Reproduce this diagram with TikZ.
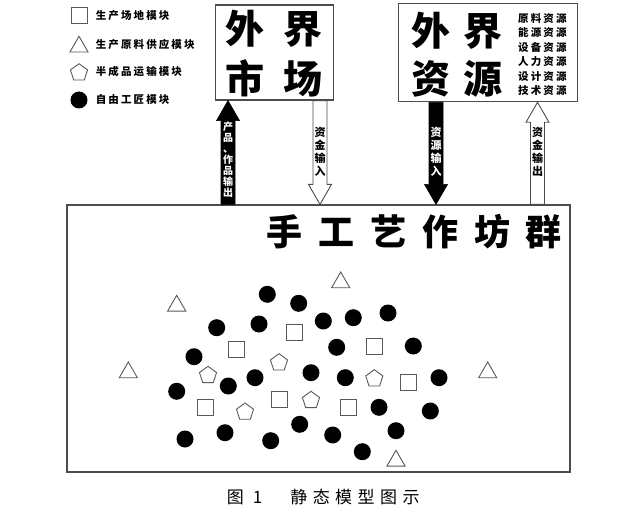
\documentclass[tikz,border=0pt]{standalone}
\usepackage{fontspec}
\setmainfont{Noto Sans CJK SC}
\usepackage{tikz}
\usetikzlibrary{calc,shapes.geometric}

\newcommand{\flowarrow}[3]{%
  \draw[#1] ($(#2)+(-7,0)$) -- ($(#3)!20pt!(#2)+(-7,0)$) -- ($(#3)!20pt!(#2)+(-11.5,0)$) -- (#3)
    -- ($(#3)!20pt!(#2)+(11.5,0)$) -- ($(#3)!20pt!(#2)+(7,0)$) -- ($(#2)+(7,0)$) -- cycle;}

\begin{document}
\begin{tikzpicture}[x=1pt,y=-1pt,
	panel/.style = {draw=black!70, line width=1.2pt, inner sep=0},
	crafter/.style = {circle, fill=black, minimum size=17pt, inner sep=0},
	site/.style = {draw=black!65, line width=0.9pt, minimum size=16pt, inner sep=0},
	supply/.style = {draw=black!65, line width=0.9pt, regular polygon, regular polygon sides=3, minimum size=21pt, inner sep=0},
	transit/.style = {draw=black!65, line width=0.9pt, regular polygon, regular polygon sides=5, minimum size=18pt, inner sep=0},
	keytext/.style = {anchor=west, inner sep=0, align=left, font=\bfseries\fontsize{10.5}{14.5}\selectfont\addfontfeature{LetterSpace=20}},
	flowtext/.style = {inner sep=0, align=center, font=\bfseries\fontsize{10}{11}\selectfont},
	solidflow/.style = {fill=black, draw=black, line width=0.6pt},
	hollowflow/.style = {fill=white, draw=black!70, line width=0.9pt}]
	\useasboundingbox (0,0) rectangle (644,513);

	% legend
	\node[site] (k1) at (79,15.7) {};
	\node[supply] (k2) at (79,46.8) {};
	\node[transit] (k3) at (79,72.7) {};
	\node[crafter] (k4) at (79,100) {};
	\node[keytext] (k1t) at (95.7,15.7) {生产场地模块};
	\node[keytext] (k2t) at (95.7,44.3) {生产原料供应模块};
	\node[keytext] (k3t) at (95.7,71.7) {半成品运输模块};
	\node[keytext] (k4t) at (95.7,100) {自由工匠模块};

	% outside boxes
	\node[panel, minimum width=117.6pt, minimum height=95pt] (market) at (274.5,52.5) {};
	\node[panel, minimum width=179.4pt, minimum height=98.4pt] (source) at (488,52.5) {};
	\node[anchor=west, inner sep=0, align=left, font=\bfseries\fontsize{39}{50}\selectfont\addfontfeature{LetterSpace=50}] (markettext) at (225,53.5) {外界\\市场};
	\node[anchor=west, inner sep=0, align=left, font=\bfseries\fontsize{39}{48.5}\selectfont\addfontfeature{LetterSpace=32}] (sourcetext) at (411.5,54.5) {外界\\资源};
	\node[keytext] (sourcelist) at (518,54.5) {原料资源\\能源资源\\设备资源\\人力资源\\设计资源\\技术资源};

	% workshop box
	\node[panel, minimum width=503pt, minimum height=267pt] (shop) at (318.5,338.5) {};
	\node[anchor=west, inner sep=0, font=\bfseries\fontsize{36}{36}\selectfont\addfontfeature{LetterSpace=44}] (shoptext) at (266.5,232) {手工艺作坊群};

	% flows
	\coordinate (c1) at (228,0);
	\coordinate (c2) at (320,0);
	\coordinate (c3) at (436,0);
	\coordinate (c4) at (537.5,0);
	\coordinate (f1tail) at (c1 |- shop.north);
	\coordinate (f1tip) at (c1 |- market.south);
	\coordinate (f2tail) at (c2 |- market.south);
	\coordinate (f2tip) at (c2 |- shop.north);
	\coordinate (f3tail) at (c3 |- source.south);
	\coordinate (f3tip) at (c3 |- shop.north);
	\coordinate (f4tail) at (c4 |- shop.north);
	\coordinate (f4tip) at (c4 |- source.south);
	\flowarrow{solidflow}{f1tail}{f1tip}
	\flowarrow{hollowflow}{f2tail}{f2tip}
	\flowarrow{solidflow}{f3tail}{f3tip}
	\flowarrow{hollowflow}{f4tail}{f4tip}
	\node[flowtext, text=white] (f1text) at (228,159.5) {产\\品\\、\\作\\品\\输\\出};
	\node[flowtext, font=\bfseries\fontsize{11}{13}\selectfont] (f2text) at (320,151.4) {资\\金\\输\\入};
	\node[flowtext, text=white, font=\bfseries\fontsize{11}{13}\selectfont] (f3text) at (436,151.4) {资\\源\\输\\入};
	\node[flowtext, font=\bfseries\fontsize{11}{13}\selectfont] (f4text) at (537.5,151.7) {资\\金\\输\\出};

	% supply modules
	\node[supply] (s1) at (340.7,282.5) {};
	\node[supply] (s2) at (176.7,305.8) {};
	\node[supply] (s3) at (128.3,372.5) {};
	\node[supply] (s4) at (487.7,372.5) {};
	\node[supply] (s5) at (396,460.8) {};

	% site modules
	\node[site] (p1) at (294.3,332.3) {};
	\node[site] (p2) at (236.7,349) {};
	\node[site] (p3) at (374.3,346) {};
	\node[site] (p4) at (408.3,382.3) {};
	\node[site] (p5) at (205,407.3) {};
	\node[site] (p6) at (279,399.3) {};
	\node[site] (p7) at (348.7,407.7) {};

	% transit modules
	\node[transit] (t1) at (279,362.7) {};
	\node[transit] (t2) at (208,375.3) {};
	\node[transit] (t3) at (374.3,378.7) {};
	\node[transit] (t4) at (311,400.3) {};
	\node[transit] (t5) at (245,412) {};

	% crafters
	\node[crafter] (m1) at (267.3,294.3) {};
	\node[crafter] (m2) at (298.7,303.3) {};
	\node[crafter] (m3) at (216.7,327.7) {};
	\node[crafter] (m4) at (259,324) {};
	\node[crafter] (m5) at (323.3,321) {};
	\node[crafter] (m6) at (353.3,317.7) {};
	\node[crafter] (m7) at (388,313) {};
	\node[crafter] (m8) at (336.7,347.3) {};
	\node[crafter] (m9) at (413.3,346) {};
	\node[crafter] (m10) at (194,356.7) {};
	\node[crafter] (m11) at (255,377.7) {};
	\node[crafter] (m12) at (228.3,386) {};
	\node[crafter] (m13) at (311,372.7) {};
	\node[crafter] (m14) at (345.3,377.7) {};
	\node[crafter] (m15) at (439,377.7) {};
	\node[crafter] (m16) at (176.7,391.3) {};
	\node[crafter] (m17) at (379,407.3) {};
	\node[crafter] (m18) at (430.3,411) {};
	\node[crafter] (m19) at (185,439) {};
	\node[crafter] (m20) at (225,432.7) {};
	\node[crafter] (m21) at (270.7,440.7) {};
	\node[crafter] (m22) at (299.7,424.3) {};
	\node[crafter] (m23) at (332.7,435) {};
	\node[crafter] (m24) at (396,430.7) {};
	\node[crafter] (m25) at (362.3,451.7) {};

	% caption
	\node[anchor=west, inner sep=0, font=\fontsize{17}{17}\selectfont] (caption) at (226.7,496.7) {图\hspace{9pt}1\hspace{28pt}{\addfontfeature{LetterSpace=32}静态模型图示}};
\end{tikzpicture}
\end{document}
